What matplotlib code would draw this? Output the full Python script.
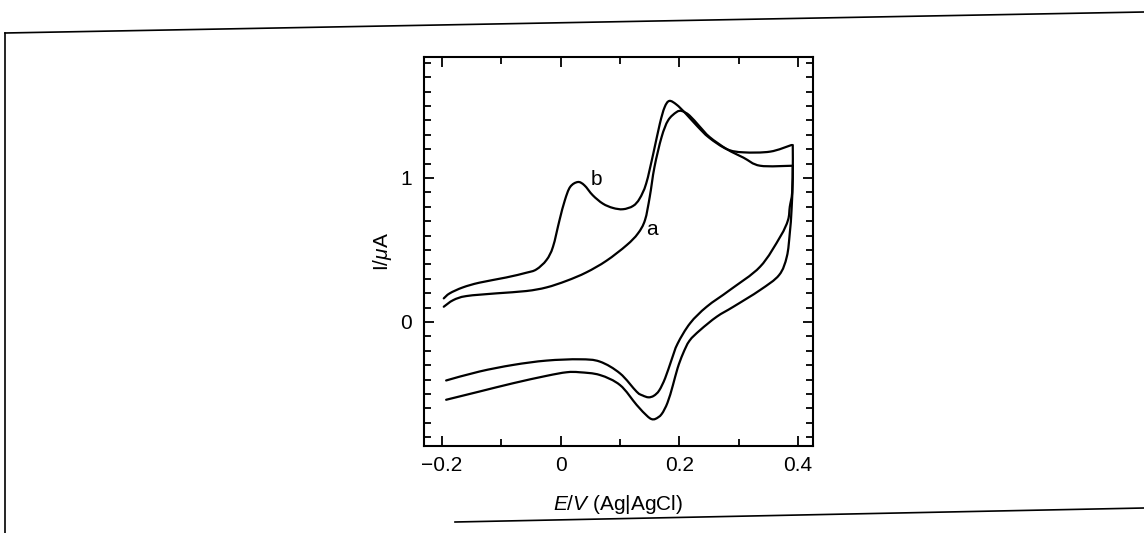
import numpy as np
import matplotlib.pyplot as plt
from matplotlib.lines import Line2D
from matplotlib.path import Path
from matplotlib.patches import PathPatch
from matplotlib.ticker import MultipleLocator, FixedLocator

plt.rcParams['font.family'] = ['Liberation Sans', 'DejaVu Sans']
plt.rcParams['mathtext.fontset'] = 'custom'
plt.rcParams['mathtext.rm'] = 'Liberation Sans'
plt.rcParams['mathtext.it'] = 'Liberation Sans:italic'

# curve b, forward (anodic) scan
b_fwd_E = [-0.197, -0.187, -0.165, -0.137, -0.092, -0.058, -0.041, -0.024, -0.013,
           -0.002, 0.007, 0.016, 0.029, 0.040, 0.054, 0.071, 0.088, 0.105, 0.122,
           0.133, 0.144, 0.156, 0.167, 0.175, 0.183, 0.195, 0.210, 0.230, 0.250,
           0.280, 0.308, 0.353, 0.389]
b_fwd_I = [0.164, 0.199, 0.240, 0.273, 0.309, 0.342, 0.365, 0.430, 0.522,
           0.707, 0.845, 0.938, 0.972, 0.949, 0.880, 0.822, 0.792, 0.783, 0.806,
           0.857, 0.961, 1.169, 1.376, 1.490, 1.535, 1.510, 1.450, 1.360, 1.280,
           1.200, 1.178, 1.183, 1.229]
# curve b, reverse (cathodic) scan
b_rev_E = [0.391, 0.391, 0.389, 0.386, 0.381, 0.368, 0.336, 0.291, 0.263, 0.235,
           0.217, 0.206, 0.197, 0.189, 0.180, 0.170, 0.160, 0.153, 0.145, 0.128,
           0.100, 0.066, 0.032, 0.010, -0.024, -0.080, -0.137, -0.193]
b_rev_I = [1.229, 1.000, 0.780, 0.617, 0.454, 0.326, 0.222, 0.106, 0.037, -0.056,
           -0.130, -0.220, -0.320, -0.440, -0.560, -0.640, -0.672, -0.674, -0.650, -0.576,
           -0.438, -0.368, -0.349, -0.349, -0.374, -0.425, -0.483, -0.540]

# curve a, forward scan
a_fwd_E = [-0.197, -0.181, -0.159, -0.108, -0.058, -0.024, 0.010, 0.043, 0.077,
           0.111, 0.130, 0.142, 0.150, 0.158, 0.170, 0.181, 0.195, 0.204, 0.217,
           0.234, 0.251, 0.280, 0.308, 0.336, 0.391]
a_fwd_I = [0.106, 0.152, 0.180, 0.199, 0.215, 0.240, 0.286, 0.344, 0.425,
           0.533, 0.614, 0.707, 0.868, 1.076, 1.284, 1.400, 1.457, 1.465, 1.434,
           1.358, 1.284, 1.200, 1.141, 1.085, 1.085]
# curve a, reverse scan
a_rev_E = [0.391, 0.390, 0.386, 0.383, 0.370, 0.336, 0.285, 0.246, 0.218, 0.197,
           0.187, 0.176, 0.166, 0.157, 0.148, 0.138, 0.128, 0.100, 0.066, 0.032,
           -0.024, -0.080, -0.137, -0.193]
a_rev_I = [1.085, 0.900, 0.800, 0.708, 0.593, 0.384, 0.222, 0.106, -0.009, -0.150,
           -0.260, -0.390, -0.475, -0.512, -0.523, -0.510, -0.484, -0.357, -0.275, -0.259,
           -0.268, -0.298, -0.344, -0.406]


def smooth_path(ax, xs, ys):
    # Catmull-Rom through the read points, drawn as cubic Bezier segments.
    # Tangents are built in display space so that both axes count equally.
    pts = ax.transData.transform(np.column_stack([xs, ys]))
    n = len(pts)
    verts = [pts[0]]
    codes = [Path.MOVETO]
    for i in range(n - 1):
        p0 = pts[max(i - 1, 0)]
        p1 = pts[i]
        p2 = pts[i + 1]
        p3 = pts[min(i + 2, n - 1)]
        c1 = p1 + (p2 - p0) / 6.0
        c2 = p2 - (p3 - p1) / 6.0
        verts += [c1, c2, p2]
        codes += [Path.CURVE4] * 3
    verts = ax.transData.inverted().transform(np.array(verts))
    return Path(verts, codes)


fig = plt.figure(figsize=(11.44, 5.33), dpi=100)
ax = fig.add_axes([424 / 1144, 1 - 446 / 533, 389 / 1144, 389 / 533])

ax.set_xlim(-0.2303, 0.4251)
ax.set_ylim(-0.861, 1.84)

for E, I in [(b_fwd_E, b_fwd_I), (b_rev_E, b_rev_I),
             (a_fwd_E, a_fwd_I), (a_rev_E, a_rev_I)]:
    ax.add_patch(PathPatch(smooth_path(ax, E, I), facecolor='none',
                           edgecolor='black', lw=1.6, capstyle='round',
                           joinstyle='round'))

ax.text(0.061, 0.99, 'b', fontsize=15, ha='center', va='center')
ax.text(0.153, 0.64, 'a', fontsize=15, ha='center', va='center')

ax.xaxis.set_major_locator(FixedLocator([-0.2, 0.0, 0.2, 0.4]))
ax.xaxis.set_minor_locator(FixedLocator([-0.1, 0.1, 0.3]))
ax.yaxis.set_major_locator(FixedLocator([0, 1]))
ax.yaxis.set_minor_locator(MultipleLocator(0.1))
ax.set_xticklabels(['\u22120.2', '0', '0.2', '0.4'])
ax.set_yticklabels(['0', '1'])

ax.tick_params(which='both', direction='in', top=True, right=True,
               width=1.3, labelsize=15, color='black')
ax.tick_params(which='major', length=7)
ax.tick_params(which='minor', length=5)
ax.tick_params(axis='x', pad=7)
ax.tick_params(axis='y', pad=9)
for s in ax.spines.values():
    s.set_linewidth(1.5)

ax.set_xlabel(r'$E/V$ (Ag|AgCl)', fontsize=15, labelpad=13)
ax.set_ylabel(r'I/$\mu$A', fontsize=15, labelpad=4)

# scanned page frame
W, H = 1144, 533
frame = [((5, 33), (1144, 12)), ((5, 33), (5, 533)), ((455, 522), (1144, 508))]
for (x0, y0), (x1, y1) in frame:
    fig.add_artist(Line2D([x0 / W, x1 / W], [1 - y0 / H, 1 - y1 / H],
                          transform=fig.transFigure, color='black', lw=1.2))

fig.savefig('out.png', dpi=100)
